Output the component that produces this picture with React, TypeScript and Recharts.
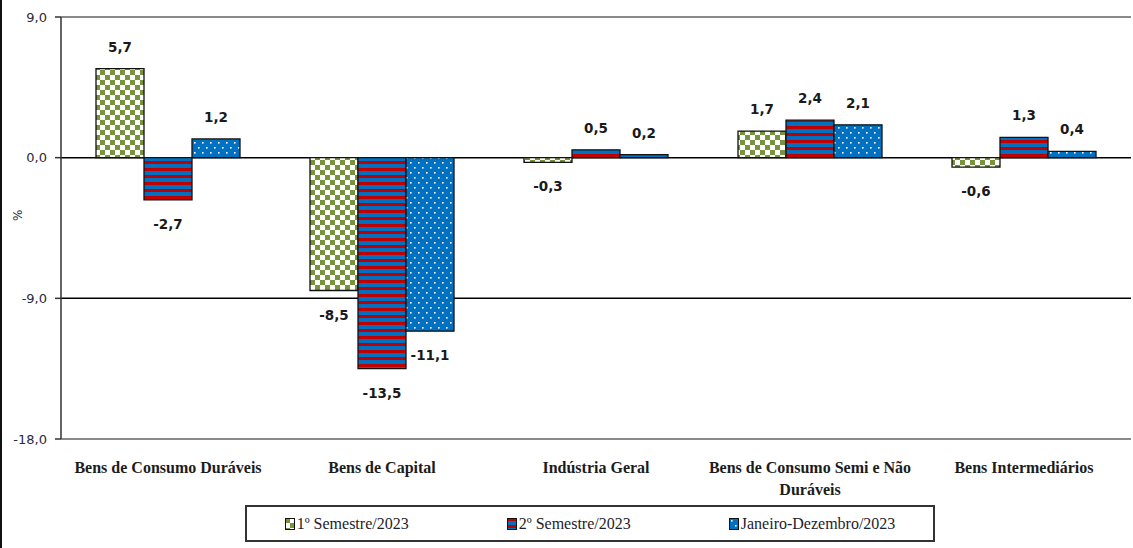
import { Bar, BarChart, CartesianGrid, LabelList, ReferenceLine, XAxis, YAxis } from "recharts";

const categories = [
  "Bens de Consumo Duráveis",
  "Bens de Capital",
  "Indústria Geral",
  "Bens de Consumo Semi e Não Duráveis",
  "Bens Intermediários",
];
const seriesNames = ["1º Semestre/2023", "2º Semestre/2023", "Janeiro-Dezembro/2023"];
const sem1 = [5.7, -8.5, -0.3, 1.7, -0.6];
const sem2 = [-2.7, -13.5, 0.5, 2.4, 1.3];
const fullYear = [1.2, -11.1, 0.2, 2.1, 0.4];
const yTicks = [9, 0, -9, -18];

const data = categories.map((name, i) => ({ name, s1: sem1[i], s2: sem2[i], s3: fullYear[i] }));
const seriesKeys = ["s1", "s2", "s3"];
const fills = ["url(#pCheck)", "url(#pStripe)", "url(#pDots)"];

const fmt = (v: number) => v.toFixed(1).replace(".", ",");

function wrap(text: string, max: number) {
  const lines: string[] = [];
  let cur = "";
  for (const w of text.split(" ")) {
    const next = cur ? cur + " " + w : w;
    if (next.length > max && cur) {
      lines.push(cur);
      cur = w;
    } else cur = next;
  }
  if (cur) lines.push(cur);
  return lines;
}

function CatTick({ x, y, payload }: any) {
  const lines = wrap(payload.value, 26);
  return (
    <text x={x} y={y + 32} textAnchor="middle" fontFamily="'Liberation Serif', serif" fontWeight="bold" fontSize={16} fill="#1c1c1c">
      {lines.map((l, i) => (
        <tspan key={i} x={x} dy={i === 0 ? 0 : 22}>
          {l}
        </tspan>
      ))}
    </text>
  );
}

function ValueLabel({ x, y, width, height, value }: any) {
  const top = Math.min(y, y + height);
  const bottom = Math.max(y, y + height);
  const cy = value >= 0 ? top - 22 : bottom + 24;
  return (
    <text x={x + width / 2} y={cy} dominantBaseline="central" textAnchor="middle" fontFamily="'DejaVu Sans', sans-serif" fontWeight="bold" fontSize={13.5} fill="#1a1a1a">
      {fmt(value)}
    </text>
  );
}

export default function App() {
  return (
    <div style={{ position: "absolute", left: 0, top: 0, width: 1133, height: 548, background: "#fff", overflow: "hidden" }}>
      <div style={{ position: "absolute", left: 0, top: 0, width: 2, height: 548, background: "#111" }} />
      <BarChart width={1133} height={548} data={data} margin={{ top: 17, right: 2, left: 0, bottom: 49 }} barCategoryGap={35} barGap={0}>
        <defs>
          <pattern id="pCheck" width={10} height={10} patternUnits="userSpaceOnUse">
            <rect width={10} height={10} fill="#fff" />
            <rect width={5} height={5} fill="#77933C" />
            <rect x={5} y={5} width={5} height={5} fill="#77933C" />
          </pattern>
          <pattern id="pStripe" width={7} height={7} patternUnits="userSpaceOnUse">
            <rect width={7} height={7} fill="#0070C0" />
            <rect width={7} height={3} fill="#C00000" />
          </pattern>
          <pattern id="pDots" width={8} height={10} patternUnits="userSpaceOnUse">
            <rect width={8} height={10} fill="#0070C0" />
            <rect x={2} y={2} width={1.6} height={1.6} fill="#fff" />
            <rect x={6} y={7} width={1.6} height={1.6} fill="#fff" />
          </pattern>
        </defs>
        <CartesianGrid vertical={false} horizontalValues={[0, -9]} stroke="#000" strokeWidth={1.5} />
        <XAxis
          dataKey="name"
          interval={0}
          tickLine={false}
          tickSize={0}
          height={60}
          axisLine={{ stroke: "#8a8a8a", strokeWidth: 2 }}
          tick={<CatTick />}
        />
        <YAxis
          domain={[-18, 9]}
          ticks={yTicks}
          width={61}
          tickSize={6}
          tickMargin={8}
          tickFormatter={fmt}
          axisLine={{ stroke: "#333", strokeWidth: 1.5 }}
          tickLine={{ stroke: "#333", strokeWidth: 1.5 }}
          tick={{ fontSize: 13, fill: "#2b2b3b", fontFamily: "'DejaVu Sans', sans-serif" }}
          label={({ viewBox }: any) => (
            <text
              x={viewBox.x + 18}
              y={viewBox.y + viewBox.height * 0.47}
              transform={`rotate(-90 ${viewBox.x + 18} ${viewBox.y + viewBox.height * 0.47})`}
              textAnchor="middle"
              dominantBaseline="central"
              fontSize={12}
              fontFamily="'DejaVu Sans', sans-serif"
              fill="#2b2b3b"
            >
              %
            </text>
          )}
        />
        <YAxis yAxisId="r" orientation="right" domain={[-18, 9]} width={0} tick={false} tickLine={false} axisLine={{ stroke: "#8a8a8a", strokeWidth: 2 }} />
        <ReferenceLine y={9} stroke="#8a8a8a" strokeWidth={2} />
        {seriesKeys.map((k, i) => (
          <Bar key={k} dataKey={k} name={seriesNames[i]} fill={fills[i]} stroke="#111" strokeWidth={1.3} isAnimationActive={false}>
            <LabelList dataKey={k} content={<ValueLabel />} />
          </Bar>
        ))}
      </BarChart>
      <div
        style={{
          position: "absolute",
          left: 245,
          top: 505,
          width: 686,
          height: 33,
          border: "2px solid #333",
          display: "flex",
          alignItems: "center",
          justifyContent: "center",
          gap: 98,
          fontFamily: "'Liberation Serif', serif",
          fontSize: 16,
          color: "#1c1c2c",
        }}
      >
        {seriesNames.map((n, i) => (
          <div key={n} style={{ display: "flex", alignItems: "center" }}>
            <svg width={10} height={12} style={{ marginRight: 2 }}>
              <rect x={0.5} y={0.5} width={9} height={11} fill={fills[i]} stroke="#111" />
            </svg>
            {n}
          </div>
        ))}
      </div>
    </div>
  );
}
